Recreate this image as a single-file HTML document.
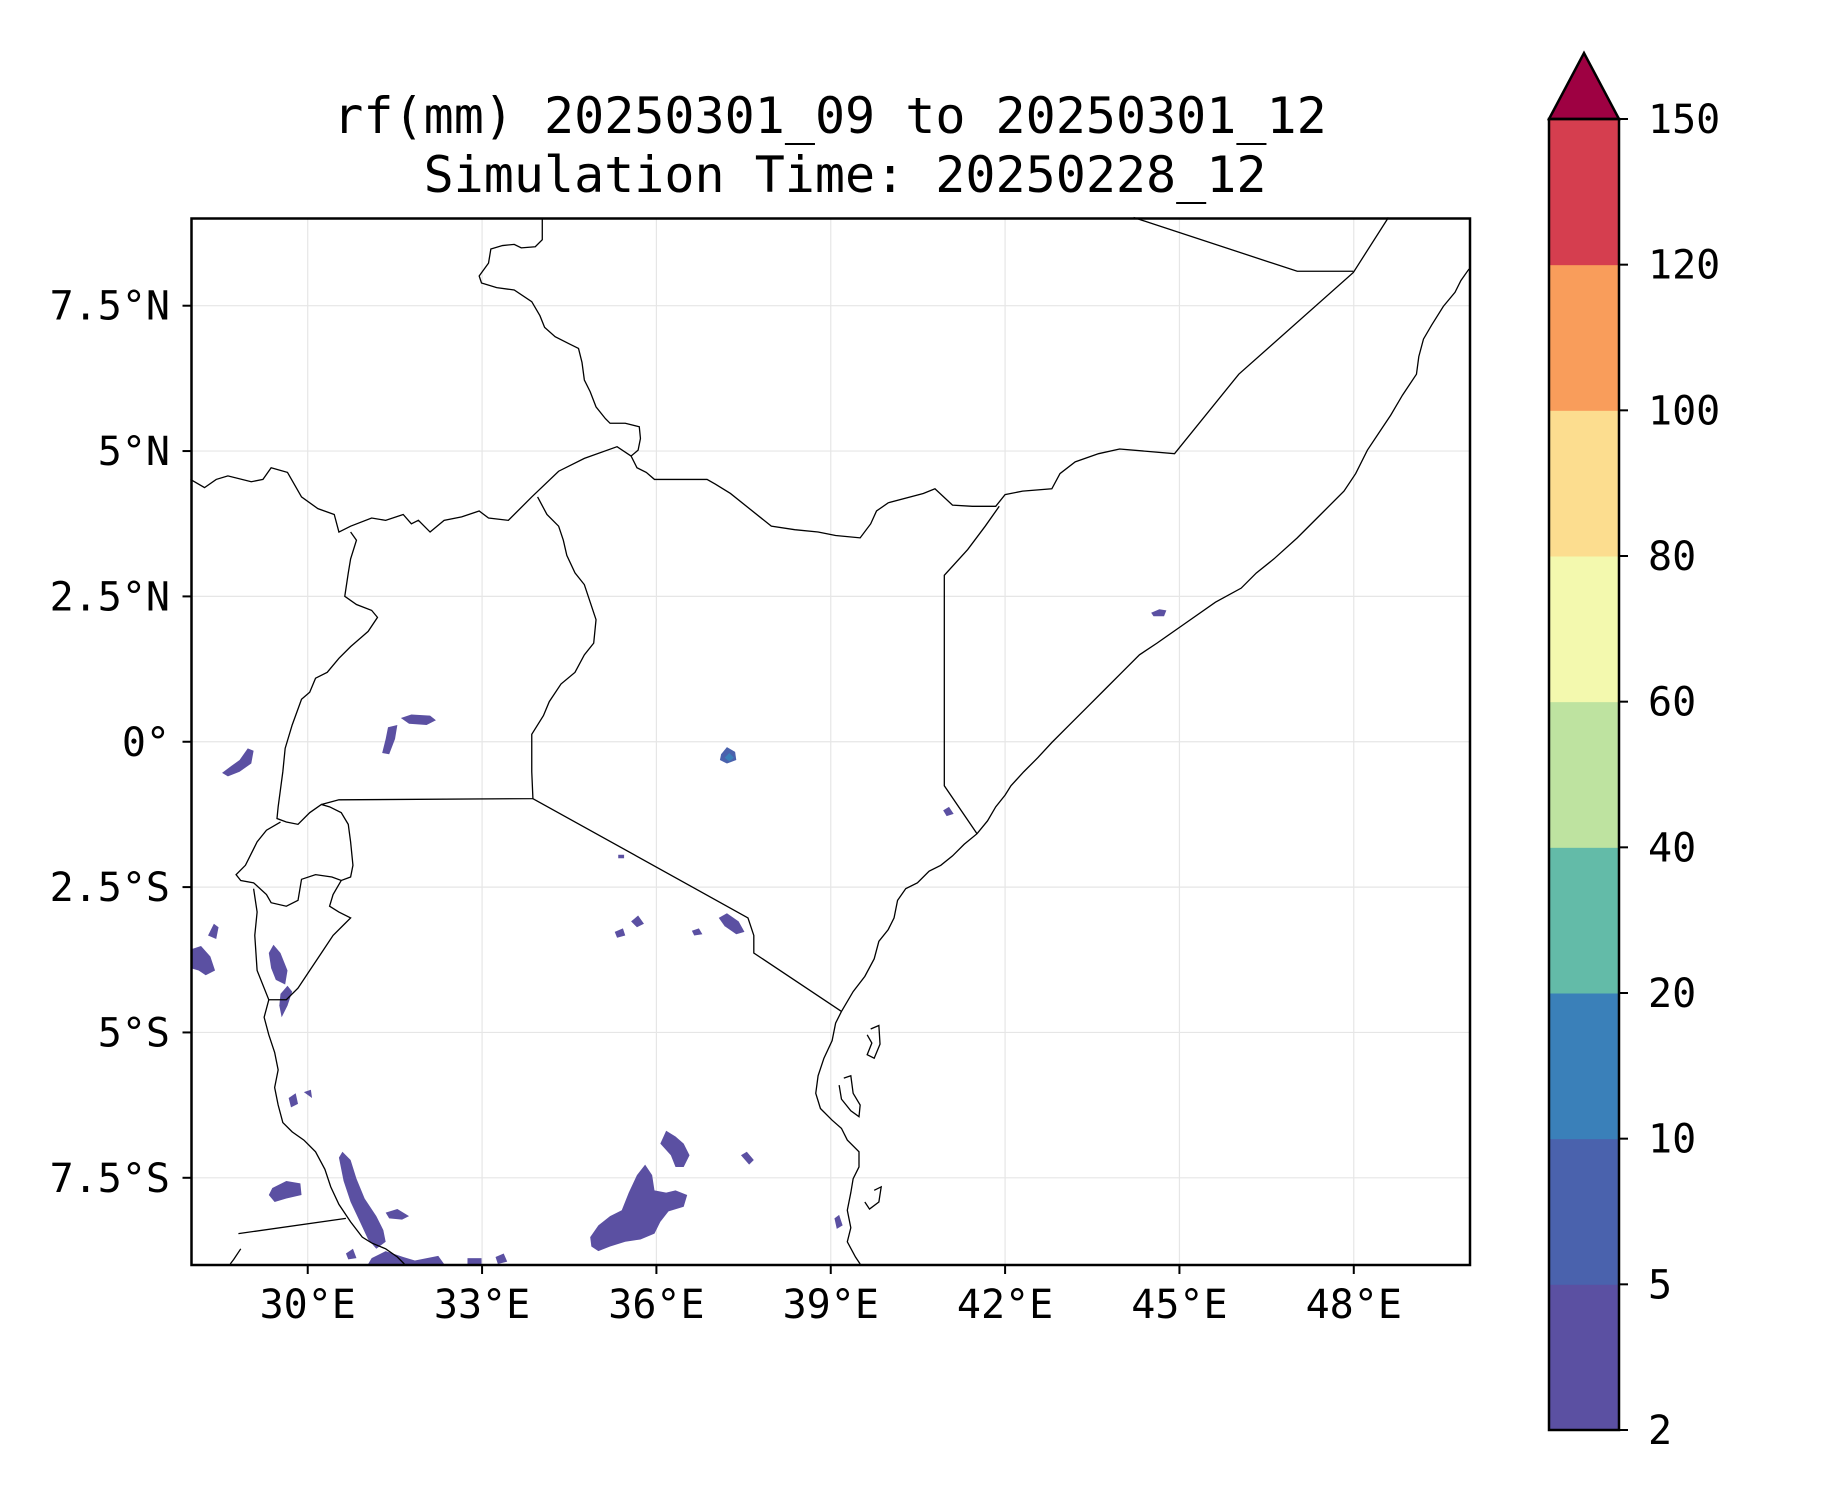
<!DOCTYPE html>
<html><head><meta charset="utf-8"><style>
html,body{margin:0;padding:0;background:#fff;}
svg{display:block;font-family:"DejaVu Sans Mono","Liberation Mono",monospace;}
</style></head><body>
<svg id="fig" width="1833" height="1500" viewBox="0 0 1833 1500">
<rect width="1833" height="1500" fill="#fff"/>
<text x="830" y="133" font-size="50" text-anchor="middle">rf(mm) 20250301_09 to 20250301_12</text>
<text x="845" y="192" font-size="50" text-anchor="middle">Simulation Time: 20250228_12</text>
<g id="grid"></g>
<g transform="scale(1.1687,1.1693)">
<g fill="#5b50a2">
<path d="M343,614 L352,611 L368,612 L373,616 L365,620 L350,619 Z"/>
<path d="M332,622 L340,620 L338,632 L333,645 L327,644 L330,632 Z"/>
<path d="M190,661 L198,655 L205,650 L212,640 L217,642 L215,653 L205,660 L195,664 Z"/>
<path d="M617,645 L622,639 L629,643 L630,650 L622,653 L616,650 Z" fill="#4a62ad"/>
<path d="M620,648 L624,644 L628,648 L624,651 Z" fill="#3a80b9"/>
<path d="M615,785 L622,781 L632,788 L637,797 L630,799 L620,792 Z"/>
<path d="M540,788 L546,783 L551,790 L545,793 Z"/>
<path d="M526,797 L533,794 L535,800 L528,802 Z"/>
<path d="M592,796 L598,794 L601,799 L594,800 Z"/>
<path d="M163,812 L172,809 L180,818 L184,830 L176,834 L170,830 L163,828 Z"/>
<path d="M178,800 L183,790 L187,793 L185,803 Z"/>
<path d="M230,815 L234,808 L240,815 L246,830 L244,842 L236,838 L232,828 Z"/>
<path d="M240,850 L246,843 L250,848 L246,860 L241,870 L239,860 Z"/>
<path d="M233,1016 L245,1010 L257,1012 L258,1022 L245,1025 L235,1028 L230,1022 Z"/>
<path d="M290,990 L293,985 L300,992 L305,1008 L312,1025 L322,1040 L328,1052 L330,1062 L322,1068 L315,1060 L308,1045 L300,1028 L294,1010 Z"/>
<path d="M330,1037 L340,1034 L350,1040 L344,1043 L333,1042 Z"/>
<path d="M505,1058 L512,1048 L522,1040 L532,1035 L538,1020 L545,1005 L552,996 L558,1005 L560,1018 L570,1020 L578,1018 L588,1022 L585,1032 L572,1036 L565,1045 L560,1055 L548,1060 L535,1062 L522,1066 L512,1070 L506,1066 Z"/>
<path d="M565,978 L570,967 L578,972 L585,978 L590,988 L585,998 L578,998 L574,988 Z"/>
<path d="M634,988 L639,985 L645,992 L641,996 Z"/>
<path d="M714,1042 L718,1039 L721,1048 L716,1051 Z"/>
<path d="M985,524 L992,521 L998,522 L996,527 L987,527 Z"/>
<path d="M807,693 L812,690 L816,696 L810,698 Z"/>
<path d="M247,939 L253,935 L255,944 L249,947 Z"/>
<path d="M260,934 L266,932 L267,939 Z"/>
<path d="M296,1072 L302,1068 L305,1076 L298,1077 Z"/>
<path d="M318,1076 L330,1070 L345,1075 L355,1078 L375,1074 L380,1081 L315,1081 Z"/>
<path d="M424,1075 L431,1072 L434,1079 L426,1081 Z"/>
<path d="M400,1076 L412,1076 L412,1081 L400,1081 Z"/>
<path d="M529,731 L534,731 L534,734 L529,734 Z"/>
</g>
<g fill="none" stroke="#000" stroke-width="1.3">
<polyline vector-effect="non-scaling-stroke" points="464,186 464,205 458,211 446,212 440,209 430,210 420,213 418,225 410,236 412,242 425,246 440,248 455,258 462,270 466,280 475,288 487,294 495,298 498,310 500,325 505,335 510,348 518,358 522,362 535,362 547,365 548,375 546,385 540,390 545,400 553,404 560,410 605,410 612,414 625,422 660,450 680,453 700,455 715,458 736,460 745,448 750,437 760,430 790,422 800,418 815,432 832,433 852,433 860,423 875,420 900,418 907,405 920,395 940,388 958,384 1005,388 1060,320 1158,233 1188,186"/>
<polyline vector-effect="non-scaling-stroke" points="855,433 843,450 828,470 808,492 808,672 836,713"/>
<polyline vector-effect="non-scaling-stroke" points="970,186 1110,232 1158,232"/>
<polyline vector-effect="non-scaling-stroke" points="1257,230 1250,240 1245,250 1235,262 1225,278 1218,290 1214,305 1212,320 1200,338 1190,355 1180,370 1170,385 1160,405 1150,420 1130,440 1110,460 1090,478 1075,490 1062,503 1040,515 1010,536 990,550 975,560 960,575 945,590 930,605 915,620 900,635 888,648 876,660 865,672 860,680 852,690 845,702 836,713 825,722 815,732 805,740 795,745 785,755 775,760 768,770 765,785 760,795 752,805 748,820 740,835 730,848 720,865 715,875 712,890 705,905 700,920 698,935 702,948 712,958 720,965 725,975 735,985 735,998 730,1008 728,1020 725,1035 728,1050 725,1062 732,1075 736,1081"/>
<polyline vector-effect="non-scaling-stroke" points="456,683 640,785 645,800 645,815 720,865"/>
<polyline vector-effect="non-scaling-stroke" points="163,410 175,417 185,410 195,407 215,412 225,410 232,400 246,404 258,425 272,435 286,440 290,455 300,450 318,443 330,445 345,440 352,448 358,445 368,455 380,445 395,442 410,437 418,443 435,445 455,425 478,403 500,392 528,382 540,390"/>
<polyline vector-effect="non-scaling-stroke" points="460,425 468,440 478,450 482,462 485,475 492,490 500,500 505,515 510,530 508,550 500,560 492,575 480,585 470,600 465,612 455,628 455,660 456,683 290,684 275,688"/>
<polyline vector-effect="non-scaling-stroke" points="300,455 305,462 300,478 298,490 295,510 305,517 318,522 323,528 315,540 300,553 290,563 280,575 270,580 265,592 258,598 250,620 244,640 242,660 240,675 238,690 237,700 245,703 255,705 265,695 275,688 282,690 292,695 298,705 300,720 302,740 300,750 292,753 284,750 270,748 258,752 255,770 245,775 232,772 228,765 217,755 206,753 202,748 210,740 215,730 220,720 228,710 240,703"/>
<polyline vector-effect="non-scaling-stroke" points="292,753 285,765 282,775 290,780 300,785 295,790 285,800 275,815 265,830 255,845 245,855 230,855"/>
<polyline vector-effect="non-scaling-stroke" points="217,760 220,780 218,800 220,830 230,855 226,870 230,885 235,900 238,915 235,930 238,945 242,960 250,968 260,975 270,985 278,1000 283,1015 290,1030 300,1045 310,1058 318,1063 330,1068 340,1075 346,1081"/>
<polyline vector-effect="non-scaling-stroke" points="204,1055 296,1042"/>
<polyline vector-effect="non-scaling-stroke" points="206,1068 200,1077 197,1081"/>
<polyline vector-effect="non-scaling-stroke" points="745,880 752,877 753,893 748,905 742,902 746,892 742,885 Z"/>
<polyline vector-effect="non-scaling-stroke" points="722,922 728,920 730,935 736,945 735,955 728,950 720,940 718,928 Z"/>
<polyline vector-effect="non-scaling-stroke" points="748,1018 754,1015 752,1028 744,1034 740,1028 Z"/>
</g>
</g>
<rect x="191.5" y="218.5" width="1278.5" height="1046.5" fill="none" stroke="#000" stroke-width="2.5"/>
<g id="axes" font-size="40"></g>
<g id="cbar"></g>
</svg>
<script>
const NS='http://www.w3.org/2000/svg';
const lonTicks=[30,33,36,39,42,45,48];
const lonLabels=['30°E','33°E','36°E','39°E','42°E','45°E','48°E'];
const latTicks=[7.5,5,2.5,0,-2.5,-5,-7.5];
const latLabels=['7.5°N','5°N','2.5°N','0°','2.5°S','5°S','7.5°S'];
const cbLevels=[2,5,10,20,40,60,80,100,120,150];
const cbColors=['#5b50a2','#4a62ad','#3a80b9','#63bba8','#bee3a0','#f3f9ae','#fcdd8f','#f99d5b','#d53e4f'];
const extendColor='#9e0142';
const X0=191.5,X1=1470,Y0=218.5,Y1=1265,LON0=28,LON1=50,LAT0=-9,LAT1=9;
function xs(lon){return X0+(lon-LON0)*(X1-X0)/(LON1-LON0);}
function ys(lat){return Y0+(LAT1-lat)*(Y1-Y0)/(LAT1-LAT0);}
function mk(t,a,p){const e=document.createElementNS(NS,t);for(const k in a)e.setAttribute(k,a[k]);p.appendChild(e);return e;}
const grid=document.getElementById('grid'),axes=document.getElementById('axes'),cb=document.getElementById('cbar');
lonTicks.forEach((v,i)=>{
 const x=xs(v);
 const l=mk('line',{x1:x,x2:x,y1:Y0,y2:Y1,stroke:'#e6e6e6','stroke-width':1.2},grid);
 
 
 const t=mk('text',{x:x,y:1318,'text-anchor':'middle'},axes);
 t.textContent=lonLabels[i];
 
 
});
latTicks.forEach((v,i)=>{
 const y=ys(v);
 const l=mk('line',{x1:X0,x2:X1,y1:y,y2:y,stroke:'#e6e6e6','stroke-width':1.2},grid);
 
 
 const t=mk('text',{x:170,y:y+14,'text-anchor':'end'},axes);
 t.textContent=latLabels[i];
 
 
});
const CX=1549,CW=70,CT=119,CB=1430,n=cbColors.length,seg=(CB-CT)/n;
cbColors.forEach((c,i)=>{
 const r=mk('rect',{x:CX,y:CB-(i+1)*seg,width:CW,height:seg+0.5,fill:c},cb);
 
 
});
const tri=mk('polygon',{points:`${CX},${CT} ${CX+CW/2},53 ${CX+CW},${CT}`,fill:extendColor,stroke:'#000','stroke-width':2.5},cb);


const fr=mk('rect',{x:CX,y:CT,width:CW,height:CB-CT,fill:'none',stroke:'#000','stroke-width':2.5},cb);


cbLevels.forEach((v,i)=>{
 const y=CB-i*seg;
 const tk=mk('line',{x1:CX+CW,x2:CX+CW+9,y1:y,y2:y,stroke:'#000','stroke-width':2},cb);
 
 
 const t=mk('text',{x:1648,y:y+14,'font-size':40},cb);
 t.textContent=v;
 
 
});
lonTicks.forEach(v=>{const x=xs(v);const k=mk('line',{x1:x,x2:x,y1:Y1,y2:Y1+9,stroke:'#000','stroke-width':2},axes);
 
 });
latTicks.forEach(v=>{const y=ys(v);const k=mk('line',{x1:X0-9,x2:X0,y1:y,y2:y,stroke:'#000','stroke-width':2},axes);
 
 });
</script>
</body></html>
